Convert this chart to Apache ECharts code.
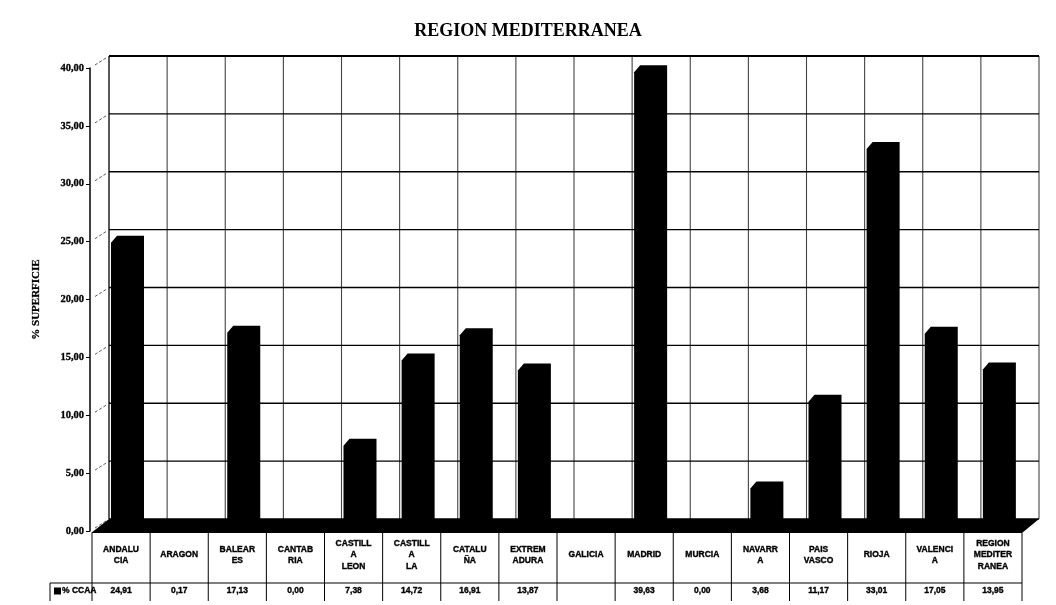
<!DOCTYPE html>
<html>
<head>
<meta charset="utf-8">
<script src="https://cdn.jsdelivr.net/npm/echarts@6/dist/echarts.min.js"></script>
<style>html,body{margin:0;padding:0;background:#fff}#c{width:1056px;height:605px}</style>
</head>
<body>
<div id="c"></div>
<script>
const categories = ['ANDALUCIA','ARAGON','BALEARES','CANTABRIA','CASTILLA LEON','CASTILLA LA','CATALUÑA','EXTREMADURA','GALICIA','MADRID','MURCIA','NAVARRA','PAIS VASCO','RIOJA','VALENCIA','REGION MEDITERRANEA'];
const headerLabels = ['ANDALU\nCIA','ARAGON','BALEAR\nES','CANTAB\nRIA','CASTILL\nA\nLEON','CASTILL\nA\nLA','CATALU\nÑA','EXTREM\nADURA','GALICIA','MADRID','MURCIA','NAVARR\nA','PAIS\nVASCO','RIOJA','VALENCI\nA','REGION\nMEDITER\nRANEA'];
const values = [24.91, 0.17, 17.13, 0.00, 7.36, 14.72, 16.91, 13.87, null, 39.63, 0.00, 3.68, 11.17, 33.01, 17.05, 13.95];
const valueLabels = ['24,91','0,17','17,13','0,00','7,38','14,72','16,91','13,87','','39,63','0,00','3,68','11,17','33,01','17,05','13,95'];
const yTicks = [0, 5, 10, 15, 20, 25, 30, 35, 40];
const seriesName = '% CCAA';
const titleText = 'REGION MEDITERRANEA';
const yName = '% SUPERFICIE';

const DX = 17, DY = -12;      // back wall offset
const BDX = 6, BDY = -7;      // bar depth
const HEAD_Y = 555, VAL_Y = 591, ROW_TOP = 533, ROW_SEP = 583, ROW_BOT = 601;
const SANS = '"Liberation Sans", Arial, sans-serif';
const SERIF = '"Liberation Serif", "Times New Roman", serif';

const chart = echarts.init(document.getElementById('c'), null, {renderer: 'canvas'});

function frameItem(params, api) {
  const band = api.size([1, 0])[0];
  const x0 = api.coord([0, 0])[0] - band / 2;
  const x1 = api.coord([categories.length - 1, 0])[0] + band / 2;
  const yTop = api.coord([0, yTicks[yTicks.length - 1]])[1];
  const yBase = api.coord([0, 0])[1];
  const ch = [];
  for (let i = 0; i <= categories.length; i++) {
    const x = x0 + i * band + DX;
    ch.push({type: 'line', shape: {x1: x, y1: yTop + DY, x2: x, y2: yBase + DY},
      style: {stroke: i === 0 ? '#000' : '#444', lineWidth: i === 0 ? 1.3 : 1.1}});
  }
  yTicks.forEach((t, k) => {
    const y = api.coord([0, t])[1];
    ch.push({type: 'line', shape: {x1: x0 + DX, y1: y + DY, x2: x1 + DX, y2: y + DY},
      style: {stroke: '#000', lineWidth: k === yTicks.length - 1 ? 2 : 1.3}});
    ch.push({type: 'line', shape: {x1: x0 + 3, y1: y - 3, x2: x0 + DX - 3, y2: y + DY + 2},
      style: {stroke: '#444', lineWidth: 0.9, lineDash: [3, 2]}});
  });
  ch.push({type: 'polygon', shape: {points: [[x0 - 1, yBase + 2], [x1, yBase + 2], [x1 + DX, yBase + DY], [x0 + DX, yBase + DY]]},
    style: {fill: '#000'}});
  return {type: 'group', children: ch};
}

function barItem(params, api) {
  const v = api.value(1);
  const i = api.value(0);
  const band = api.size([1, 0])[0];
  const c = api.coord([i, 0]);
  const left = c[0] - band / 2;
  const ch = [];
  if (v !== null && !isNaN(v)) {
    const top = api.coord([i, v])[1];
    const base = c[1];
    const L = left + 19, R = left + 46;
    ch.push({type: 'polygon', shape: {points: [[L, base], [L, top], [L + BDX, top + BDY], [R + BDX, top + BDY], [R + BDX, base + BDY], [R, base]]},
      style: {fill: '#000'}});
  }
  return {type: 'group', children: ch};
}

function txt(text, x, y, align, extra) {
  return {type: 'text', style: Object.assign({text: text, x: x, y: y, align: align, verticalAlign: 'middle',
    fontFamily: SANS, fontWeight: 'bold', fontSize: 8.5, lineHeight: 11.5, fill: '#000',
    stroke: '#000', lineWidth: 0.35}, extra || {})};
}

function tableItem(params, api) {
  const i = api.value(0);
  const band = api.size([1, 0])[0];
  const cx = api.coord([i, 0])[0];
  const left = cx - band / 2, right = cx + band / 2;
  const ch = [];
  ch.push({type: 'line', shape: {x1: left, y1: ROW_TOP, x2: left, y2: ROW_BOT}, style: {stroke: '#000', lineWidth: 1}});
  if (i === categories.length - 1) {
    ch.push({type: 'line', shape: {x1: right, y1: ROW_TOP, x2: right, y2: ROW_BOT}, style: {stroke: '#000', lineWidth: 1}});
  }
  ch.push(txt(headerLabels[i], cx, HEAD_Y, 'center'));
  ch.push(txt(valueLabels[i], cx, VAL_Y, 'center'));
  if (i === 0) {
    ch.push({type: 'line', shape: {x1: 50, y1: ROW_SEP, x2: api.coord([categories.length - 1, 0])[0] + band / 2, y2: ROW_SEP}, style: {stroke: '#000', lineWidth: 1.2}});
    ch.push({type: 'line', shape: {x1: 50, y1: ROW_SEP, x2: 50, y2: ROW_BOT}, style: {stroke: '#000', lineWidth: 1}});
    ch.push({type: 'rect', shape: {x: 54, y: VAL_Y - 3.5, width: 7, height: 7}, style: {fill: '#000'}});
    ch.push(txt(seriesName, 62, VAL_Y, 'left'));
  }
  return {type: 'group', children: ch};
}

const option = {
  animation: false,
  backgroundColor: '#fff',
  title: {text: titleText, left: 'center', top: 17,
    textStyle: {fontFamily: SERIF, fontWeight: 'bold', fontSize: 18, color: '#000'}},
  grid: {left: 92, right: 34, top: 68, bottom: 74},
  xAxis: {type: 'category', data: categories, show: false, boundaryGap: true},
  yAxis: {type: 'value', min: 0, max: 40, interval: 5, offset: 2,
    name: yName, nameLocation: 'middle', nameGap: 48,
    nameTextStyle: {fontFamily: SERIF, fontWeight: 'bold', fontSize: 11, color: '#000', textBorderColor: '#000', textBorderWidth: 0.3},
    axisLine: {show: true, lineStyle: {color: '#000', width: 1.5}},
    axisTick: {show: true, length: 4, lineStyle: {color: '#000'}},
    axisLabel: {margin: 6, color: '#000', fontFamily: SERIF, fontWeight: 'bold', fontSize: 10.5,
      textBorderColor: '#000', textBorderWidth: 0.3,
      formatter: v => v.toFixed(2).replace('.', ',')},
    splitLine: {show: false}},
  series: [
    {type: 'custom', name: 'frame', renderItem: frameItem, data: [[0, 0]], clip: false, z: 1, silent: true},
    {type: 'custom', name: seriesName, renderItem: barItem, data: values.map((v, i) => [i, v === null ? NaN : v]), clip: false, z: 2, silent: true},
    {type: 'custom', name: 'table', renderItem: tableItem, data: values.map((v, i) => [i, 0]), clip: false, z: 3, silent: true}
  ]
};
chart.setOption(option);
</script>
</body>
</html>
